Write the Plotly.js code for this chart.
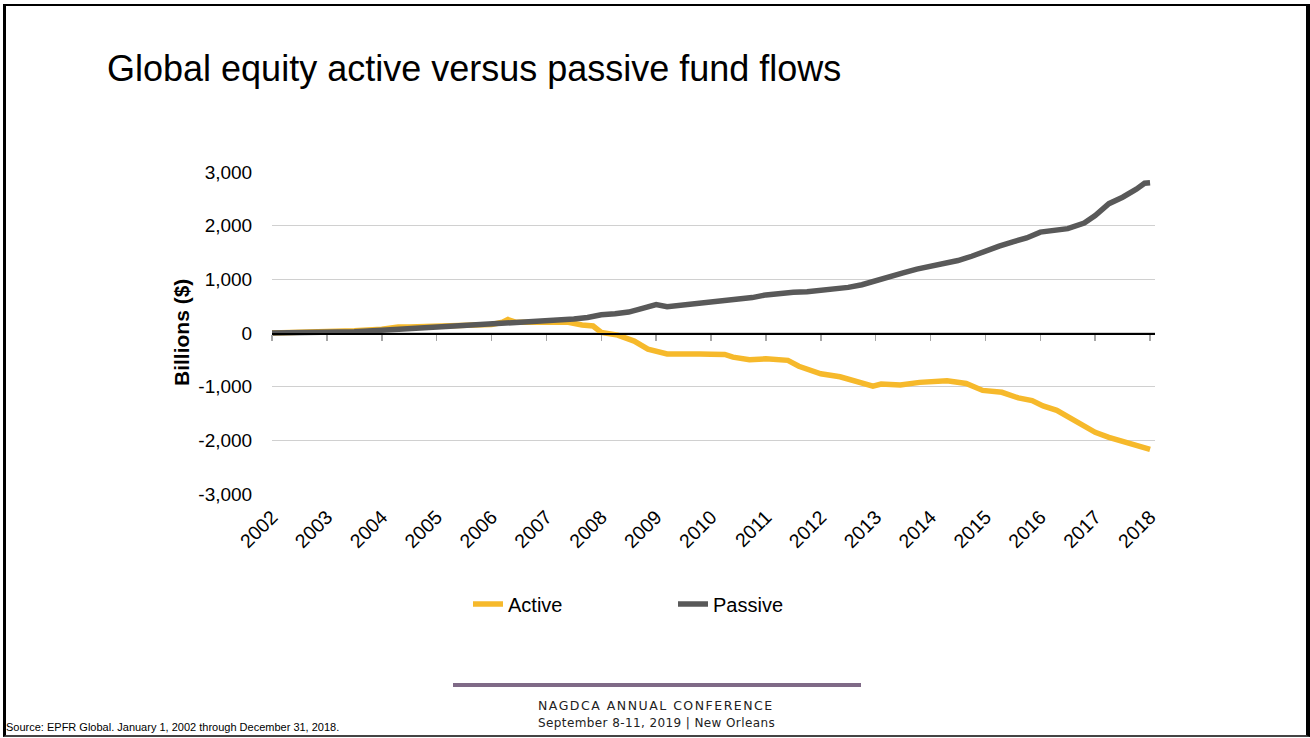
<!DOCTYPE html>
<html>
<head>
<meta charset="utf-8">
<script src="https://cdn.plot.ly/plotly-3.0.1.min.js"></script>
<style>
  html, body { margin: 0; padding: 0; background: #fff; }
  #chart { width: 1310px; height: 738px; }
  #frame { position: absolute; left: 3px; top: 4px; width: 1307px; height: 733px; box-sizing: border-box;
           border-left: 3px solid #000; border-top: 2px solid #000; border-right: 4px solid #000; border-bottom: 2px solid #444;
           pointer-events: none; }
</style>
</head>
<body>
<div id="chart"></div>
<div id="frame"></div>
<script>
// Data (Billions $, cumulative flows)
const passiveYears = [2002.0, 2002.5, 2003.0, 2003.5, 2004.0, 2004.5, 2005.0, 2005.5, 2006.0, 2006.5, 2007.0, 2007.5, 2007.75,
  2008.0, 2008.25, 2008.5, 2008.75, 2009.0, 2009.2, 2009.4, 2009.6, 2009.8, 2010.0, 2010.2, 2010.5, 2010.75,
  2011.0, 2011.25, 2011.5, 2011.75, 2012.0, 2012.25, 2012.5, 2012.75, 2013.0, 2013.25, 2013.5, 2013.75,
  2014.0, 2014.25, 2014.5, 2014.75, 2015.0, 2015.25, 2015.5, 2015.75, 2016.0, 2016.25, 2016.5, 2016.8,
  2017.0, 2017.25, 2017.5, 2017.75, 2017.9, 2018.0];
const passiveValues = [0, 5, 10, 25, 50, 80, 110, 135, 160, 185, 215, 260, 290,
  340, 360, 390, 460, 530, 490, 510, 535, 550, 580, 600, 625, 660,
  710, 740, 760, 770, 790, 830, 850, 900, 980, 1060, 1120, 1190,
  1235, 1290, 1350, 1430, 1530, 1620, 1700, 1770, 1880, 1920, 1945, 2050,
  2190, 2410, 2530, 2680, 2790, 2800];

const activeYears = [2002.0, 2002.5, 2003.0, 2003.5, 2004.0, 2004.3, 2004.5, 2005.0, 2005.5, 2006.0, 2006.2, 2006.3, 2006.45,
  2006.75, 2007.0, 2007.4, 2007.65, 2007.85, 2008.0, 2008.3, 2008.6, 2008.85, 2009.2, 2009.5, 2009.8,
  2010.0, 2010.25, 2010.4, 2010.7, 2011.0, 2011.4, 2011.6, 2011.85, 2012.0, 2012.35, 2012.6, 2012.95,
  2013.1, 2013.45, 2013.8, 2014.3, 2014.65, 2014.95, 2015.3, 2015.6, 2015.85, 2016.05, 2016.3, 2016.6,
  2016.8, 2017.0, 2017.25, 2017.6, 2017.85, 2018.0];
const activeValues = [0, 10, 15, 40, 70, 110, 110, 120, 140, 160, 200, 250, 200,
  200, 215, 200, 150, 130, 10, -40, -150, -300, -390, -380, -390,
  -395, -400, -450, -500, -480, -510, -620, -720, -760, -815, -880, -990,
  -950, -970, -920, -890, -940, -1070, -1105, -1210, -1260, -1360, -1440, -1620,
  -1720, -1850, -1945, -2040, -2105, -2170];

const yearTicks = [2002, 2003, 2004, 2005, 2006, 2007, 2008, 2009, 2010, 2011, 2012, 2013, 2014, 2015, 2016, 2017, 2018];
const yearLabels = yearTicks.map(String);
const yTicks = [-3000, -2000, -1000, 0, 1000, 2000, 3000];
const yLabels = ['-3,000', '-2,000', '-1,000', '0', '1,000', '2,000', '3,000'];

const FONT = 'Arial, "Liberation Sans", sans-serif';

const traces = [
  { x: activeYears, y: activeValues, name: 'Active', type: 'scatter', mode: 'lines',
    line: { color: '#F6B92B', width: 5.5 }, xaxis: 'x', yaxis: 'y' },
  { x: passiveYears, y: passiveValues, name: 'Passive', type: 'scatter', mode: 'lines',
    line: { color: '#595959', width: 5.5 }, xaxis: 'x', yaxis: 'y' },
  // empty helper trace so the bottom label axis is drawn
  { x: [], y: [], type: 'scatter', mode: 'lines', xaxis: 'x2', yaxis: 'y', showlegend: false, hoverinfo: 'skip' }
];

const L = 272, R = 155, T = 172, B = 244;
const W = 1310 - L - R, H = 738 - T - B;
const px = v => (v - L) / W;
const py = v => (738 - B - v) / H;

const layout = {
  width: 1310, height: 738,
  margin: { l: L, r: R, t: T, b: B },
  paper_bgcolor: '#fff', plot_bgcolor: '#fff',
  font: { family: FONT, color: '#000', size: 19 },
  showlegend: true,
  title: { text: 'Global equity active versus passive fund flows', x: 107 / 1310, xref: 'container', xanchor: 'left',
           y: 1 - 68 / 738, yref: 'container', yanchor: 'middle', font: { family: FONT, size: 36, color: '#000' } },
  xaxis: {
    range: [2002, 2018.09], anchor: 'free', position: 0.5,
    tickvals: yearTicks, ticktext: yearLabels, showticklabels: false,
    showline: true, linecolor: '#000', linewidth: 1.5,
    ticks: 'outside', ticklen: 6, tickcolor: '#a6a6a6', tickwidth: 1.5,
    showgrid: false, zeroline: false, fixedrange: true
  },
  xaxis2: {
    range: [2002, 2018.09], overlaying: 'x', anchor: 'y', side: 'bottom',
    tickvals: yearTicks, ticktext: yearLabels, tickangle: -45,
    tickfont: { family: FONT, size: 19.5, color: '#000' },
    showline: false, ticks: 'outside', ticklen: 3, tickcolor: 'rgba(0,0,0,0)',
    showgrid: false, zeroline: false, fixedrange: true
  },
  yaxis: {
    range: [-3000, 3000], tickvals: yTicks, ticktext: yLabels,
    tickfont: { family: FONT, size: 19, color: '#000' },
    showgrid: true, gridcolor: '#d0d0d0', gridwidth: 1.3,
    zeroline: false, showline: false,
    ticks: 'outside', ticklen: 15, tickcolor: 'rgba(0,0,0,0)', fixedrange: true
  },
  legend: {
    orientation: 'h', x: px(468), xanchor: 'left', y: py(604), yanchor: 'middle',
    font: { family: FONT, size: 20, color: '#000' }, entrywidth: 160, entrywidthmode: 'pixels',
    bgcolor: 'rgba(0,0,0,0)', itemclick: false, itemdoubleclick: false
  },
  shapes: [
    { type: 'line', xref: 'paper', yref: 'paper', x0: px(453), x1: px(861), y0: py(685), y1: py(685),
      line: { color: '#7F6A87', width: 4 } }
  ],
  annotations: [
    { text: '<b>Billions ($)</b>', textangle: -90, xref: 'paper', yref: 'paper', x: px(181), y: py(333),
      xanchor: 'center', yanchor: 'middle', showarrow: false, font: { family: FONT, size: 21, color: '#000' } },
    { text: '<span style="letter-spacing:1.5px">NAGDCA ANNUAL CONFERENCE</span>', xref: 'paper', yref: 'paper', x: px(656), y: py(705),
      xanchor: 'center', yanchor: 'middle', showarrow: false, font: { family: '"DejaVu Sans", sans-serif', size: 12.5, color: '#222' } },
    { text: '<span style="letter-spacing:0.4px">September 8-11, 2019 | New Orleans</span>', xref: 'paper', yref: 'paper', x: px(656), y: py(723),
      xanchor: 'center', yanchor: 'middle', showarrow: false, font: { family: '"DejaVu Sans", sans-serif', size: 12, color: '#222' } },
    { text: 'Source: EPFR Global. January 1, 2002 through December 31, 2018.', xref: 'paper', yref: 'paper',
      x: px(4), y: py(727), xanchor: 'left', yanchor: 'middle', showarrow: false,
      font: { family: FONT, size: 11, color: '#000' } }
  ]
};

Plotly.newPlot('chart', traces, layout, { displayModeBar: false, staticPlot: true });
</script>
</body>
</html>
